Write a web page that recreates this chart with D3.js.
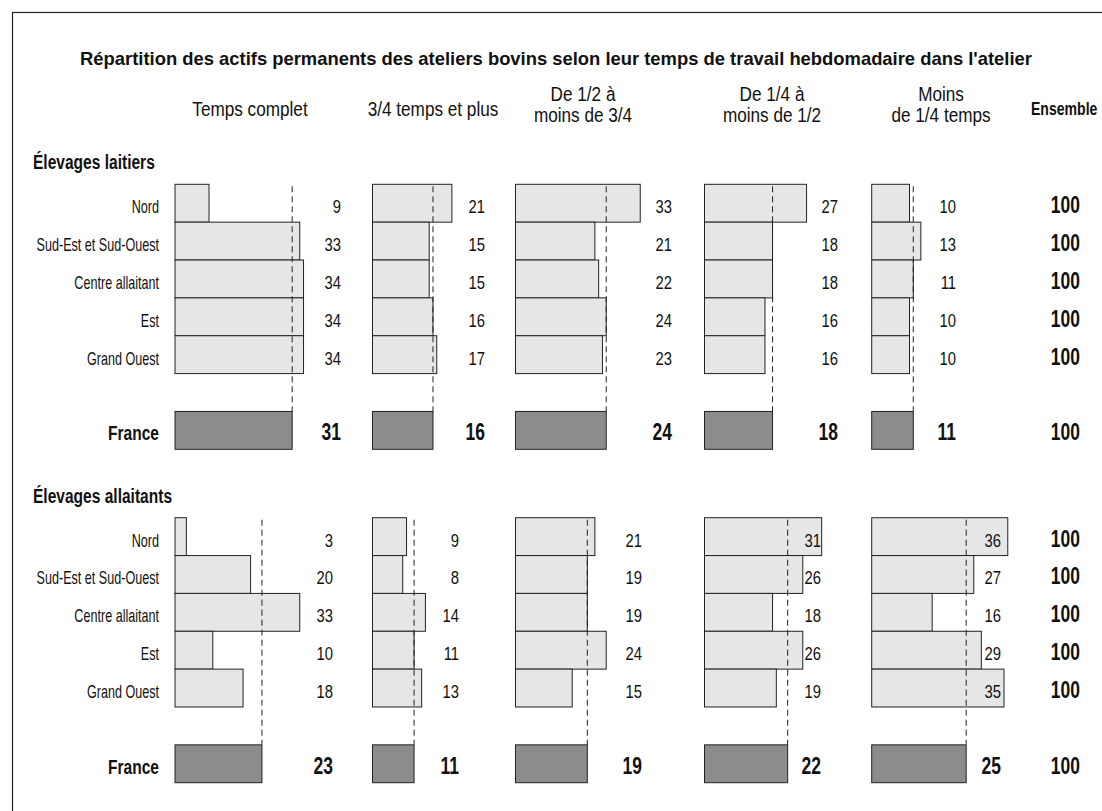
<!DOCTYPE html>
<html>
<head>
<meta charset="utf-8">
<script src="https://cdn.jsdelivr.net/npm/d3@7"></script>
<style>
  body { margin: 0; background: #fff; }
  #vis { width: 1102px; height: 811px; overflow: hidden; }
  text { fill: #111; font-family: 'Liberation Sans', Arial, sans-serif; }
</style>
</head>
<body>
<div id="vis"></div>
<script>
var title = "Répartition des actifs permanents des ateliers bovins selon leur temps de travail hebdomadaire dans l'atelier";

var categories = [
  ["Temps complet"],
  ["3/4 temps et plus"],
  ["De 1/2 à", "moins de 3/4"],
  ["De 1/4 à", "moins de 1/2"],
  ["Moins", "de 1/4 temps"]
];

var regions = ["Nord", "Sud-Est et Sud-Ouest", "Centre allaitant", "Est", "Grand Ouest"];

// one array per region, values in the order of the categories
var laitiers_nord = [9, 21, 33, 27, 10];
var laitiers_sudest = [33, 15, 21, 18, 13];
var laitiers_centre = [34, 15, 22, 18, 11];
var laitiers_est = [34, 16, 24, 16, 10];
var laitiers_ouest = [34, 17, 23, 16, 10];
var laitiers_france = [31, 16, 24, 18, 11];

var allaitants_nord = [3, 9, 21, 31, 36];
var allaitants_sudest = [20, 8, 19, 26, 27];
var allaitants_centre = [33, 14, 19, 18, 16];
var allaitants_est = [10, 11, 24, 26, 29];
var allaitants_ouest = [18, 13, 15, 19, 35];
var allaitants_france = [23, 11, 19, 22, 25];

var ensemble = 100;

var sections = [
  {
    name: "Élevages laitiers",
    rows: [laitiers_nord, laitiers_sudest, laitiers_centre, laitiers_est, laitiers_ouest],
    france: laitiers_france,
    top: 184.3,
    labelX: [341, 485, 672, 838, 956]
  },
  {
    name: "Élevages allaitants",
    rows: [allaitants_nord, allaitants_sudest, allaitants_centre, allaitants_est, allaitants_ouest],
    france: allaitants_france,
    top: 517.7,
    labelX: [333, 459, 642, 821, 1001]
  }
];

var width = 1102;
var height = 811;

var panelX = [175, 372.5, 515.5, 704.5, 871.7];
var headerX = [250, 433, 583, 772, 941];

// no narrow font installed: squeeze Liberation Sans horizontally
function narrowAt(x, y, k) {
  return 'translate(' + x + ',' + y + ') scale(' + (k || 0.8) + ',1)';
}

var svg = d3.select('#vis')
  .append('svg')
  .attr('width', width)
  .attr('height', height);

// frame, runs off the right and bottom edges
svg.append('rect')
  .attr('x', 12.5)
  .attr('y', 12.5)
  .attr('width', width)
  .attr('height', height)
  .attr('fill', 'none')
  .attr('stroke', '#222')
  .attr('stroke-width', 1.2);

svg.append('text')
  .attr('x', 556)
  .attr('y', 65)
  .attr('text-anchor', 'middle')
  .style('font-size', '18.4px')
  .style('font-weight', 'bold')
  .text(title);

// column headers
categories.forEach(function(lines, i) {
  var t = svg.append('text')
    .attr('text-anchor', 'middle')
    .attr('transform', narrowAt(headerX[i], 0, 0.88))
    .style('font-size', '19.5px');
  lines.forEach(function(line, j) {
    t.append('tspan')
      .attr('x', 0)
      .attr('y', lines.length == 1 ? 116 : 101 + j * 21)
      .text(line);
  });
});

svg.append('text')
  .attr('transform', narrowAt(1031, 115, 0.74))
  .style('font-size', '19px')
  .style('font-weight', 'bold')
  .text("Ensemble");

var x_scale = d3.scaleLinear()
  .domain([0, 100])
  .range([0, 378]);

sections.forEach(function(sec) {
  var keys = regions.concat(["_gap", "France"]);
  var y_scale = d3.scaleBand()
    .domain(keys)
    .range([sec.top, sec.top + 265])
    .padding(0);

  function rowY(key) {
    return y_scale(key) + y_scale.bandwidth() / 2 + 10;
  }

  var g = svg.append('g');

  g.append('text')
    .attr('transform', narrowAt(33, sec.top - 15, 0.74))
    .style('font-size', '21px')
    .style('font-weight', 'bold')
    .text(sec.name);

  var rows = sec.rows.map(function(vals, r) {
    return { key: regions[r], vals: vals, france: false };
  });
  rows.push({ key: "France", vals: sec.france, france: true });

  // row labels
  g.selectAll('.rowlabel')
    .data(rows)
    .enter()
    .append('text')
    .attr('class', 'rowlabel')
    .attr('transform', function(d) {
      return narrowAt(159, rowY(d.key), d.france ? 0.74 : 0.7);
    })
    .attr('text-anchor', 'end')
    .style('font-size', function(d) { return d.france ? '21px' : '18px'; })
    .style('font-weight', function(d) { return d.france ? 'bold' : 'normal'; })
    .text(function(d) { return d.key; });

  var cells = [];
  rows.forEach(function(row) {
    row.vals.forEach(function(v, c) {
      cells.push({ key: row.key, col: c, value: v, france: row.france });
    });
  });

  g.selectAll('.bar')
    .data(cells)
    .enter()
    .append('rect')
    .attr('class', 'bar')
    .attr('x', function(d) { return panelX[d.col]; })
    .attr('y', function(d) { return y_scale(d.key); })
    .attr('width', function(d) { return x_scale(d.value); })
    .attr('height', y_scale.bandwidth())
    .attr('fill', function(d) { return d.france ? '#8c8c8c' : '#e6e6e6'; })
    .attr('stroke', '#222')
    .attr('stroke-width', 1);

  // France reference lines
  g.selectAll('.ref')
    .data(sec.france)
    .enter()
    .append('line')
    .attr('class', 'ref')
    .attr('x1', function(d, c) { return panelX[c] + x_scale(d); })
    .attr('x2', function(d, c) { return panelX[c] + x_scale(d); })
    .attr('y1', y_scale(regions[0]) + 2)
    .attr('y2', y_scale("France"))
    .attr('stroke', '#222')
    .attr('stroke-width', 1)
    .attr('stroke-dasharray', '6,4');

  g.selectAll('.val')
    .data(cells)
    .enter()
    .append('text')
    .attr('class', 'val')
    .attr('transform', function(d) {
      return narrowAt(sec.labelX[d.col], rowY(d.key), d.france ? 0.76 : 0.78);
    })
    .attr('text-anchor', 'end')
    .style('font-size', function(d) { return d.france ? '23px' : '19px'; })
    .style('font-weight', function(d) { return d.france ? 'bold' : 'normal'; })
    .text(function(d) { return d.value; });

  g.selectAll('.total')
    .data(rows)
    .enter()
    .append('text')
    .attr('class', 'total')
    .attr('transform', function(d) { return narrowAt(1080, rowY(d.key), 0.76); })
    .attr('text-anchor', 'end')
    .style('font-size', '23px')
    .style('font-weight', 'bold')
    .text(ensemble);
});
</script>
</body>
</html>
